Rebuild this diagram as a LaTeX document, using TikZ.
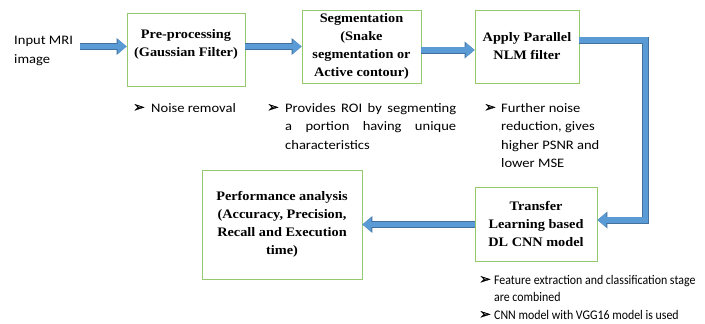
\documentclass[tikz,border=0pt]{standalone}
\usepackage{fontspec}
\setmainfont{Liberation Serif}[FakeStretch=1.1]
\newfontfamily\calwide{Carlito}[FakeStretch=1.12]
\newfontfamily\calnarrow{Carlito}[FakeStretch=0.9]
\newfontfamily\symfont{DejaVu Sans}[FakeBold=1.5]
\usetikzlibrary{arrows.meta,calc}
\definecolor{boxgreen}{RGB}{150,200,110}
\definecolor{arrblue}{RGB}{91,155,213}
\definecolor{arrdark}{RGB}{65,113,156}
\tikzset{
  boxfont/.style={font=\bfseries\fontsize{13}{18}\selectfont},
  box/.style={draw=boxgreen, line width=0.9pt, fill=white, align=center, inner sep=0pt, boxfont},
  fatarrow/.style={line width=5.5pt, draw=arrblue,
    preaction={draw=arrdark, line width=7pt, -{Triangle[length=10pt,width=17pt,line width=0pt]}},
    -{Triangle[length=9pt,width=15pt,line width=0pt]}},
  note/.style={font=\calwide\fontsize{13}{18.3}\selectfont, inner sep=0pt, anchor=west},
  notesm/.style={font=\calnarrow\fontsize{13.2}{17.5}\selectfont, inner sep=0pt, anchor=west},
  bul/.style={font=\symfont\fontsize{14}{14}\selectfont, inner sep=0pt, anchor=west},
}
\begin{document}
\begin{tikzpicture}[x=1pt,y=-1pt]
\useasboundingbox (0,0) rectangle (705,324);
% boxes
\node[box, minimum width=118pt, minimum height=73pt] (b1) at (186,49.5) {};
\node[boxfont, align=center, inner sep=0pt] (b1t) at (186,44) {Pre-processing\\(Gaussian Filter)};
\node[box, minimum width=119pt, minimum height=73pt] (b2) at (361.5,46.5) {Segmentation\\(Snake\\segmentation or\\Active contour)};
\node[box, minimum width=104pt, minimum height=73pt] (b3) at (527,46.5) {Apply Parallel\\NLM filter};
\node[box, minimum width=122pt, minimum height=74pt] (b4) at (536,224) {Transfer\\Learning based\\DL CNN model};
\node[box, minimum width=160pt, minimum height=109pt] (b5) at (282,224.5) {Performance analysis\\(Accuracy, Precision,\\Recall and Execution\\time)};
% input text
\node[note, align=left] (in) at (14,51) {Input MRI\\image};
\coordinate (inend) at (80,46.5);
% connectors
\draw[fatarrow] (inend) -- (b1.west |- inend);
\draw[fatarrow] (b1.east |- inend) -- (b2.west |- inend);
\coordinate (c23) at (0,50);
\draw[fatarrow] (b2.east |- c23) -- (b3.west |- c23);
\coordinate (c3s) at (0,40);
\coordinate (cbend) at (645.5,0);
\coordinate (c4y) at (0,220);
\draw[fatarrow, line join=miter] (b3.east |- c3s) -- (cbend |- c3s) -- (cbend |- c4y) -- (b4.east |- c4y);
\draw[fatarrow] (b4.west |- b5.east) -- (b5.east);
% notes
\node[bul] (k1) at (133,108) {➢};
\node[note] (n1) at (151,108) {Noise removal};
\node[bul] (k2) at (267,108) {➢};
\node[note, text width=171pt, align=justify] (n2) at (285,126.5) {Provides ROI by segmenting\linebreak a portion having unique\linebreak characteristics};
\node[bul] (k3) at (484,108) {➢};
\node[note, align=left] (n3) at (501,135.5) {Further noise\\reduction, gives\\higher PSNR and\\lower MSE};
\node[bul] (k4) at (479,280) {➢};
\node[notesm, align=left] (n4) at (494,288.5) {Feature extraction and classification stage\\are combined};
\node[bul] (k5) at (479,315) {➢};
\node[notesm] (n5) at (494,315) {CNN model with VGG16 model is used};
\end{tikzpicture}
\end{document}
